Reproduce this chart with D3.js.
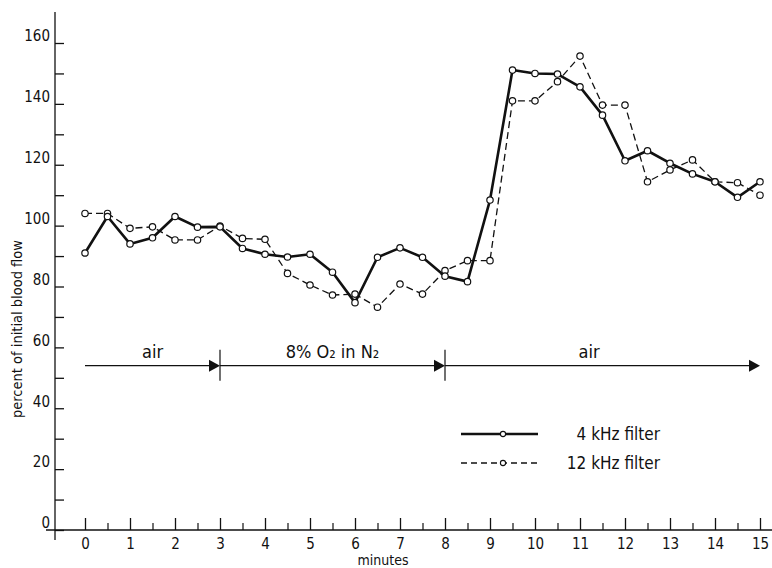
<!DOCTYPE html>
<html>
<head>
<meta charset="utf-8">
<script src="https://cdn.jsdelivr.net/npm/d3@7/dist/d3.min.js"></script>
<style>
  body { margin: 0; background: #fff; }
  svg text { font-family: "DejaVu Sans Condensed", "DejaVu Sans", sans-serif; fill: #111; }
</style>
</head>
<body>
<div id="chart"></div>
<script>
// time in minutes, one reading every half minute
var minutes = d3.range(0, 15.01, 0.5);
var filter4k  = [91, 103, 94, 96, 103, 99.5, 99.6, 92.5, 90.6, 89.7, 90.6, 84.7, 74.7, 89.6, 92.7, 89.6,
                 83.4, 81.6, 108.4, 151.1, 150, 149.8, 145.6, 136.3, 121.3, 124.6, 120.5, 117, 114.4, 109.3, 114.4];
var filter12k = [104, 104, 99.1, 99.6, 95.3, 95.3, 99.9, 95.8, 95.5, 84.3, 80.5, 77.2, 77.5, 73.2, 80.8, 77.5,
                 85.2, 88.5, 88.5, 141, 141, 147.3, 155.7, 139.6, 139.6, 114.4, 118.3, 121.6, 114.4, 114.1, 110];
var seriesNames = ["4 kHz filter", "12 kHz filter"];

var xTicks = d3.range(0, 16, 1);
var xMinorTicks = d3.range(0.5, 15, 1);
var yTicks = d3.range(0, 161, 20);
var yMinorTicks = d3.range(10, 160, 20);

var phaseStart = [0, 3, 8];
var phaseEnd = [3, 8, 15];
var phaseLabel = ["air", "8% O\u2082 in N\u2082", "air"];
var phaseLevel = 54;

var width = 772, height = 568;
var svg = d3.select("#chart").append("svg")
    .attr("width", width).attr("height", height);

var x = d3.scaleLinear().domain([0, 15]).range([85, 760]);
var y = d3.scaleLinear().domain([0, 160]).range([530, 43]);

// axis lines drawn by hand, they run past the ends
svg.append("line").attr("x1", 55).attr("x2", 55).attr("y1", 12).attr("y2", 540)
   .attr("stroke", "#111").attr("stroke-width", 1.3);
svg.append("line").attr("x1", 46).attr("x2", 772).attr("y1", y(0)).attr("y2", y(0))
   .attr("stroke", "#111").attr("stroke-width", 1.3);

// x axis
var xAx = svg.append("g").attr("transform", `translate(0,${y(0)})`)
    .call(d3.axisBottom(x).tickValues(xTicks).tickSize(-12).tickPadding(8).tickFormat(d3.format("d")));
xAx.select(".domain").remove();
xAx.selectAll(".tick line").attr("stroke", "#111").attr("stroke-width", 1.3);
xAx.selectAll(".tick text").attr("font-size", 15).style("font-family", "DejaVu Sans Condensed");

var xAxMinor = svg.append("g").attr("transform", `translate(0,${y(0)})`)
    .call(d3.axisBottom(x).tickValues(xMinorTicks).tickSize(-7).tickFormat(""));
xAxMinor.select(".domain").remove();
xAxMinor.selectAll(".tick line").attr("stroke", "#111").attr("stroke-width", 1.2);

// y axis
var yAx = svg.append("g").attr("transform", "translate(55,0)")
    .call(d3.axisLeft(y).tickValues(yTicks).tickSize(-9).tickPadding(5).tickFormat(d3.format("d")));
yAx.select(".domain").remove();
yAx.selectAll(".tick line").attr("stroke", "#111").attr("stroke-width", 1.3);
yAx.selectAll(".tick text").attr("font-size", 15).attr("dy", "-0.15em")
   .style("font-family", "DejaVu Sans Condensed");

var yAxMinor = svg.append("g").attr("transform", "translate(55,0)")
    .call(d3.axisLeft(y).tickValues(yMinorTicks).tickSize(-9).tickFormat(""));
yAxMinor.select(".domain").remove();
yAxMinor.selectAll(".tick line").attr("stroke", "#111").attr("stroke-width", 1.3);

svg.append("text")
   .attr("transform", "translate(22,329) rotate(-90)")
   .attr("text-anchor", "middle").attr("font-size", 14.5)
   .text("percent of initial blood flow");
svg.append("text")
   .attr("x", 383).attr("y", 565)
   .attr("text-anchor", "middle").attr("font-size", 14)
   .text("minutes");

// phases of gas breathing
var phases = phaseStart.map((s, i) => ({start: s, end: phaseEnd[i], label: phaseLabel[i]}));
var ay = y(phaseLevel);
var pg = svg.append("g");
pg.selectAll("line.ph").data(phases).join("line").attr("class", "ph")
  .attr("x1", d => x(d.start)).attr("x2", d => x(d.end) - 8)
  .attr("y1", ay).attr("y2", ay)
  .attr("stroke", "#111").attr("stroke-width", 1.3);
pg.selectAll("path.head").data(phases).join("path").attr("class", "head")
  .attr("d", d => `M${x(d.end)},${ay} l-11,-6 l0,12 Z`)
  .attr("fill", "#111");
pg.selectAll("line.sep").data(phaseStart.slice(1)).join("line").attr("class", "sep")
  .attr("x1", d => x(d)).attr("x2", d => x(d))
  .attr("y1", ay - 16).attr("y2", ay + 15)
  .attr("stroke", "#111").attr("stroke-width", 1.2);
pg.selectAll("text").data(phases).join("text")
  .attr("x", (d, i) => i == 2 ? x(11.2) : x((d.start + d.end) / 2))
  .attr("y", ay - 8)
  .attr("text-anchor", "middle").attr("font-size", 18)
  .text(d => d.label);

// data lines
var line = d3.line().x(d => x(d[0])).y(d => y(d[1]));
var s4 = minutes.map((m, i) => [m, filter4k[i]]);
var s12 = minutes.map((m, i) => [m, filter12k[i]]);

svg.append("path").datum(s12).attr("d", line)
   .attr("fill", "none").attr("stroke", "#111").attr("stroke-width", 1.3)
   .attr("stroke-dasharray", "7,4");
svg.append("path").datum(s4).attr("d", line)
   .attr("fill", "none").attr("stroke", "#111").attr("stroke-width", 2.6)
   .attr("stroke-linejoin", "round");

[s12, s4].forEach(s => {
  svg.append("g").selectAll("circle").data(s).join("circle")
     .attr("cx", d => x(d[0])).attr("cy", d => y(d[1])).attr("r", 3.2)
     .attr("fill", "#fff").attr("stroke", "#111").attr("stroke-width", 1.2);
});

// legend
var legend = svg.append("g");
var legY = [434, 463];
legend.selectAll("line").data(seriesNames).join("line")
  .attr("x1", 461).attr("x2", 538)
  .attr("y1", (d, i) => legY[i]).attr("y2", (d, i) => legY[i])
  .attr("stroke", "#111")
  .attr("stroke-width", (d, i) => i == 0 ? 2.6 : 1.3)
  .attr("stroke-dasharray", (d, i) => i == 0 ? null : "6,4");
legend.selectAll("circle").data(seriesNames).join("circle")
  .attr("cx", 503).attr("cy", (d, i) => legY[i]).attr("r", 2.6)
  .attr("fill", "#fff").attr("stroke", "#111").attr("stroke-width", 1.1);
legend.selectAll("text").data(seriesNames).join("text")
  .attr("x", 660).attr("y", (d, i) => legY[i] + 6)
  .attr("text-anchor", "end").attr("font-size", 17)
  .text(d => d);
</script>
</body>
</html>
